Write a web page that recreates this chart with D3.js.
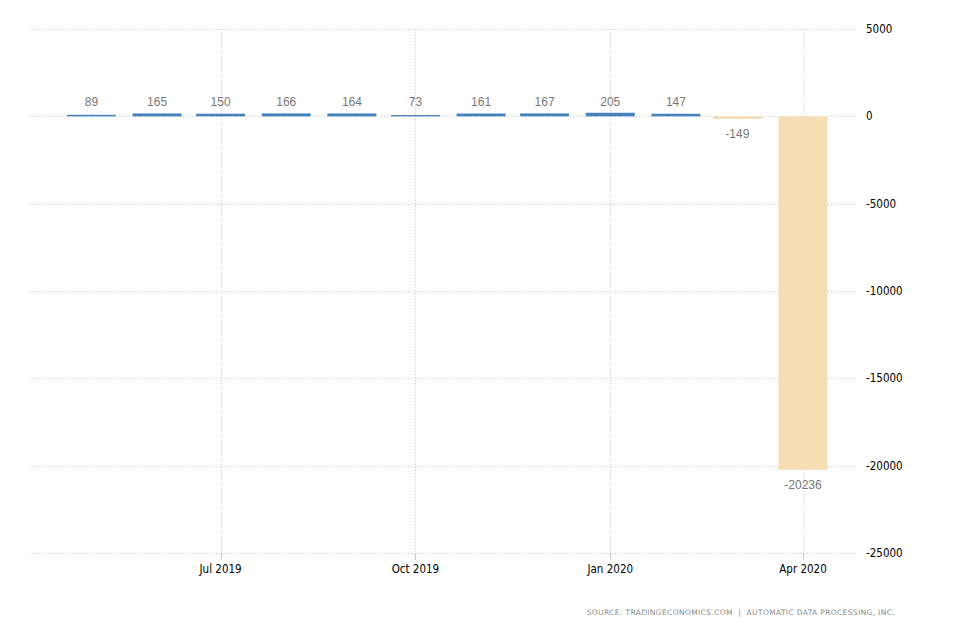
<!DOCTYPE html>
<html><head><meta charset="utf-8">
<script src="https://cdn.jsdelivr.net/npm/d3@7"></script>
<style>body{margin:0;background:#fff}</style>
</head><body>
<svg id="c" width="954" height="636"></svg>
<script>
const months = ["2019-05-01","2019-06-01","2019-07-01","2019-08-01","2019-09-01","2019-10-01","2019-11-01","2019-12-01","2020-01-01","2020-02-01","2020-03-01","2020-04-01"];
const values = [89,165,150,166,164,73,161,167,205,147,-149,-20236];
const yTicks = [5000,0,-5000,-10000,-15000,-20000,-25000];
const xTickDates = ["2019-07-01","2019-10-01","2020-01-01","2020-04-01"];
const xTickLabels = ["Jul 2019","Oct 2019","Jan 2020","Apr 2020"];
const source = "SOURCE: TRADINGECONOMICS.COM  |  AUTOMATIC DATA PROCESSING, INC.";

const parse = d3.utcParse("%Y-%m-%d");
const svg = d3.select("#c");
const L = 30, R = 857, T = 29, B = 553;
const x = d3.scaleUtc().domain([new Date(Date.UTC(2019,3,2)), new Date(Date.UTC(2020,3,26,12))]).range([L, R]);
const y = d3.scaleLinear().domain([-25000, 5000]).range([B, T]);
const barW = 49;

// horizontal grid
svg.append("g").selectAll("line").data(yTicks).join("line")
  .attr("x1", L).attr("x2", R).attr("y1", d => Math.round(y(d)) + 0.5).attr("y2", d => Math.round(y(d)) + 0.5)
  .attr("stroke", "#c8c8c8").attr("stroke-dasharray", "1,2");
// vertical grid
svg.append("g").selectAll("line").data(xTickDates).join("line")
  .attr("x1", d => Math.round(x(parse(d))) + 0.5).attr("x2", d => Math.round(x(parse(d))) + 0.5)
  .attr("y1", T).attr("y2", B)
  .attr("stroke", "#c8c8c8").attr("stroke-dasharray", "1,2");
// x ticks
svg.append("g").selectAll("line").data(xTickDates).join("line")
  .attr("x1", d => Math.round(x(parse(d))) + 0.5).attr("x2", d => Math.round(x(parse(d))) + 0.5)
  .attr("y1", B).attr("y2", B + 7).attr("stroke", "#ccc");

// bars
const data = months.map((m, i) => ({d: parse(m), v: values[i]}));
svg.append("g").selectAll("rect").data(data).join("rect")
  .attr("x", d => x(d.d) - barW / 2).attr("width", barW)
  .attr("y", d => Math.min(y(d.v), y(0)))
  .attr("height", d => Math.max(1, Math.abs(y(d.v) - y(0))))
  .attr("fill", d => d.v >= 0 ? "#4682bd" : "#f5deb3");

// value labels
svg.append("g").selectAll("text").data(data).join("text")
  .attr("x", d => x(d.d)).attr("text-anchor", "middle")
  .attr("y", d => d.v >= 0 ? y(0) - 10 : y(d.v) + 19)
  .attr("font-family", "Liberation Sans, Arial, sans-serif").attr("font-size", 12)
  .attr("fill", "#777").text(d => d.v);

// y labels
svg.append("g").selectAll("text").data(yTicks).join("text")
  .attr("x", 866).attr("y", d => y(d) + 4)
  .attr("font-family", "DejaVu Sans Condensed, DejaVu Sans, sans-serif").attr("font-size", 11.5)
  .attr("fill", "#000").text(d => d);

// x labels
svg.append("g").selectAll("text").data(xTickDates).join("text")
  .attr("x", d => x(parse(d))).attr("y", 573).attr("text-anchor", "middle")
  .attr("font-family", "DejaVu Sans Condensed, DejaVu Sans, sans-serif").attr("font-size", 11.5)
  .attr("fill", "#000").text((d, i) => xTickLabels[i]);

// source
svg.append("text").attr("x", 895).attr("y", 615).attr("text-anchor", "end")
  .style("white-space", "pre")
  .attr("font-family", "DejaVu Sans, sans-serif").attr("font-size", 7.5)
  .attr("letter-spacing", 0.36).attr("fill", "#8a8a8a").text(source);
</script>
</body></html>
